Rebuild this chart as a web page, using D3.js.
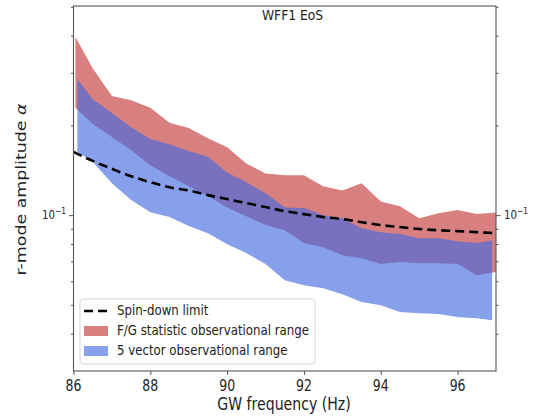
<!DOCTYPE html>
<html>
<head>
<meta charset="utf-8">
<script src="https://cdn.jsdelivr.net/npm/d3@7/dist/d3.min.js"></script>
<style>
  html, body { margin: 0; padding: 0; background: #fff; }
  svg { display: block; font-family: "DejaVu Sans", sans-serif; }
</style>
</head>
<body>
<svg id="chart" width="535" height="417"></svg>
<script>
// ---------------- data ----------------
const title = "WFF1 EoS";
const xLabel = "GW frequency (Hz)";
const yLabelMain = "r-mode amplitude ";
const yLabelSymbol = "\u03B1";
const legendLabels = ["Spin-down limit", "F/G statistic observational range", "5 vector observational range"];
const xTicks = [86, 88, 90, 92, 94, 96];
const yMajorTicks = [0.1];
const yMinorTicks = [0.04, 0.05, 0.06, 0.07, 0.08, 0.09, 0.2, 0.3, 0.4, 0.5];

// F/G statistic range
const freqFG = [86.05, 86.5, 87, 87.5, 88, 88.5, 89, 89.5, 90, 90.5, 91, 91.5, 92, 92.5, 93, 93.5, 94, 94.5, 95, 95.5, 96, 96.5, 97];
const fgUpper = [0.396, 0.311, 0.251, 0.243, 0.229, 0.204, 0.196, 0.181, 0.169, 0.149, 0.138, 0.136, 0.136, 0.125, 0.121, 0.128, 0.111, 0.107, 0.0977, 0.1015, 0.104, 0.1008, 0.102];
const fgLower = [0.229, 0.202, 0.183, 0.165, 0.147, 0.135, 0.125, 0.116, 0.106, 0.0992, 0.0926, 0.089, 0.0806, 0.0781, 0.0734, 0.0717, 0.0685, 0.0696, 0.069, 0.069, 0.0685, 0.0629, 0.0644];

// 5 vector range
const freq5V = [86.1, 86.5, 87, 87.5, 88, 88.5, 89, 89.5, 90, 90.5, 91, 91.5, 92, 92.5, 93, 93.5, 94, 94.5, 95, 95.5, 96, 96.5, 96.9];
const v5Upper = [0.286, 0.245, 0.220, 0.197, 0.180, 0.173, 0.164, 0.157, 0.139, 0.129, 0.1185, 0.106, 0.1056, 0.100, 0.0977, 0.0904, 0.0877, 0.0864, 0.0837, 0.0837, 0.0818, 0.0806, 0.0824];
const v5Lower = [0.163, 0.151, 0.128, 0.1123, 0.1023, 0.0985, 0.0919, 0.087, 0.0799, 0.0746, 0.0685, 0.0605, 0.0582, 0.0569, 0.0543, 0.0511, 0.0499, 0.0473, 0.0469, 0.0466, 0.0455, 0.0451, 0.0444];

// spin-down limit
const freqSD = [86, 86.5, 87, 87.5, 88, 88.5, 89, 89.5, 90, 90.5, 91, 91.5, 92, 92.5, 93, 93.5, 94, 94.5, 95, 95.5, 96, 96.5, 97];
const spinDown = [0.163, 0.152, 0.143, 0.135, 0.129, 0.124, 0.121, 0.1167, 0.1132, 0.1097, 0.1064, 0.1031, 0.1008, 0.0985, 0.097, 0.0947, 0.0926, 0.0912, 0.0898, 0.089, 0.0884, 0.0877, 0.087];

// ---------------- layout ----------------
const svg = d3.select("#chart");
const L = 73.5, R = 496, T = 6, B = 371;
const SY = 1.2; // vertical text stretch seen in the reference
const textColor = "#222";
const redFill = "#cd5c5c", redOpacity = 0.78;
const blueFill = "#4169e1", blueOpacity = 0.63;

const x = d3.scaleLinear().domain([86, 97]).range([L, R]);
const y = d3.scaleLog().domain([0.03, 0.503]).range([B, T]);

function stext(px, py, str, size, anchor) {
  const g = svg.append("g").attr("transform", `translate(${px},${py}) scale(1,${SY})`);
  return g.append("text").attr("x", 0).attr("y", 0)
    .attr("font-size", size).attr("text-anchor", anchor || "start")
    .attr("fill", textColor).text(str);
}

// ---------------- bands ----------------
const fgData = freqFG.map((f, i) => ({ f, lo: fgLower[i], hi: fgUpper[i] }));
const v5Data = freq5V.map((f, i) => ({ f, lo: v5Lower[i], hi: v5Upper[i] }));
const sdData = freqSD.map((f, i) => ({ f, v: spinDown[i] }));

const area = d3.area().x(d => x(d.f)).y0(d => y(d.lo)).y1(d => y(d.hi));
svg.append("path").datum(fgData).attr("d", area)
  .attr("fill", redFill).attr("fill-opacity", redOpacity);
svg.append("path").datum(v5Data).attr("d", area)
  .attr("fill", blueFill).attr("fill-opacity", blueOpacity);

const line = d3.line().x(d => x(d.f)).y(d => y(d.v)).curve(d3.curveMonotoneX);
svg.append("path").datum(sdData).attr("d", line)
  .attr("fill", "none").attr("stroke", "#000").attr("stroke-width", 2.6)
  .attr("stroke-dasharray", "9,5");

// ---------------- axes ----------------
const axisColor = "#555";
svg.append("g").attr("transform", `translate(0,${B})`)
  .call(d3.axisBottom(x).tickValues(xTicks).tickSize(4).tickFormat(""));
svg.append("g").attr("transform", `translate(${L},0)`)
  .call(d3.axisLeft(y).tickValues(yMinorTicks).tickSize(2.5).tickFormat(""));
svg.append("g").attr("transform", `translate(${L},0)`)
  .call(d3.axisLeft(y).tickValues(yMajorTicks).tickSize(4.5).tickFormat(""));
svg.append("g").attr("transform", `translate(${R},0)`)
  .call(d3.axisRight(y).tickValues(yMinorTicks).tickSize(2.5).tickFormat(""));
svg.append("g").attr("transform", `translate(${R},0)`)
  .call(d3.axisRight(y).tickValues(yMajorTicks).tickSize(4.5).tickFormat(""));
svg.selectAll(".domain").remove();
svg.selectAll(".tick line").attr("stroke", axisColor).attr("stroke-width", 1);

// frame
svg.append("rect").attr("x", L).attr("y", T).attr("width", R - L).attr("height", B - T)
  .attr("fill", "none").attr("stroke", axisColor).attr("stroke-width", 1.1);

// x tick labels
xTicks.forEach(t => stext(x(t), 391, String(t), 12.5, "middle"));

// y major labels (10^-1) on both sides
function powLabel(px, py, anchor, v) {
  const e = Math.round(Math.log10(v));
  const t = stext(px, py, "", 10.2, anchor);
  t.append("tspan").text("10");
  t.append("tspan").attr("font-size", 7.5).attr("dy", -4).text("\u2212" + Math.abs(e));
}
yMajorTicks.forEach(v => {
  powLabel(66, y(v) + 4, "end", v);
  powLabel(504, y(v) + 4, "start", v);
});

// title & axis labels
stext(292.5, 20, title, 12.3, "middle");
stext(284, 410, xLabel, 14.1, "middle");
const yl = svg.append("g").attr("transform", `translate(25.5,189.5) scale(1,${SY}) rotate(-90)`)
  .append("text").attr("text-anchor", "middle").attr("font-size", 14.5)
  .attr("fill", textColor);
yl.append("tspan").text(yLabelMain);
yl.append("tspan").attr("font-style", "italic").text(yLabelSymbol);

// ---------------- legend ----------------
const lg = svg.append("g");
lg.append("rect").attr("x", 80).attr("y", 299).attr("width", 235).attr("height", 65)
  .attr("rx", 3).attr("fill", "#fff").attr("fill-opacity", 0.8)
  .attr("stroke", "#d4d4d4").attr("stroke-width", 1);
const rows = [311, 331, 351];
lg.append("line").attr("x1", 84).attr("x2", 108).attr("y1", rows[0]).attr("y2", rows[0])
  .attr("stroke", "#000").attr("stroke-width", 2.6).attr("stroke-dasharray", "9,5");
lg.append("rect").attr("x", 84).attr("y", rows[1] - 5).attr("width", 24).attr("height", 10)
  .attr("fill", redFill).attr("fill-opacity", redOpacity);
lg.append("rect").attr("x", 84).attr("y", rows[2] - 5).attr("width", 24).attr("height", 10)
  .attr("fill", blueFill).attr("fill-opacity", blueOpacity);
legendLabels.forEach((s, i) => stext(117, rows[i] + 4.3, s, 11.8, "start"));
</script>
</body>
</html>
